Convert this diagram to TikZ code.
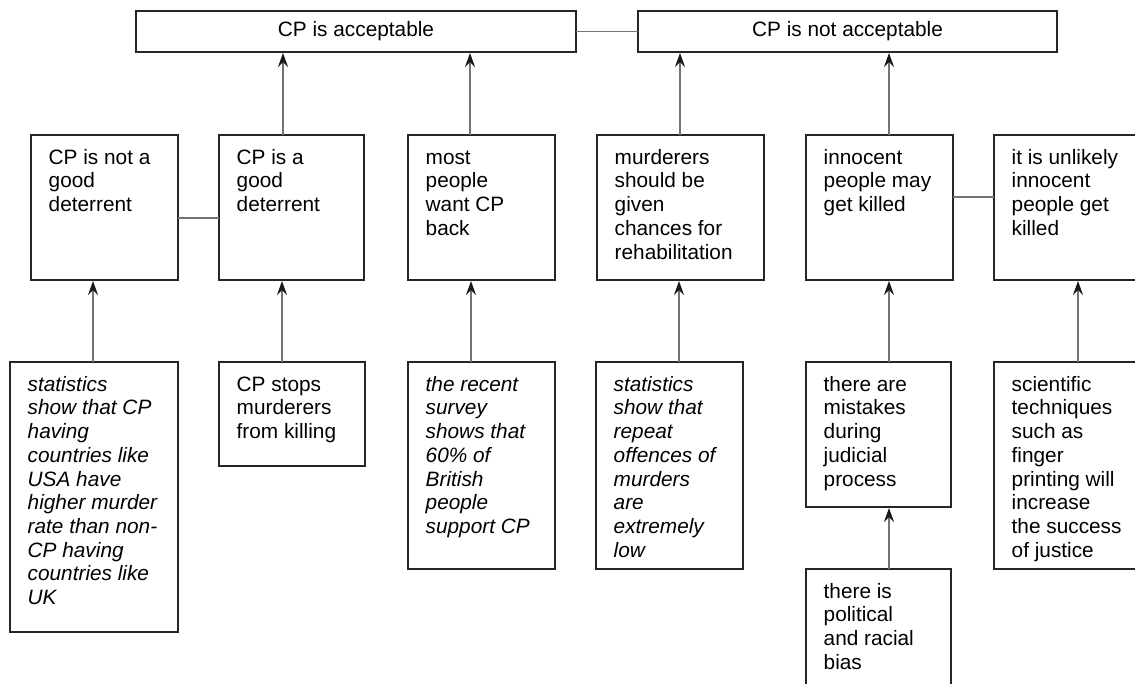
\documentclass[tikz,border=0pt]{standalone}
\usepackage{fontspec}
\setmainfont{Liberation Sans}
\usetikzlibrary{arrows.meta,calc}
\tikzset{
  box/.style={draw=black!85, line width=1.4pt, fill=white, anchor=north west, inner sep=0pt, outer sep=0pt},
  txt/.style={font=\fontsize{20.8}{23.7}\selectfont, align=left, inner sep=0pt, anchor=north west},
  ttl/.style={font=\fontsize{20.8}{23.7}\selectfont, inner sep=0pt},
  link/.style={draw=black!55, line width=1.5pt},
  arr/.style={link, -{Stealth[length=14pt,width=10pt,inset=5pt,black!90]}, shorten >=1pt}
}
\newcommand{\fl}{\rule{0pt}{15pt}}
\begin{document}
\begin{tikzpicture}[x=1pt,y=-1pt]
\useasboundingbox (0,0) rectangle (1135,684);
\clip (0,0) rectangle (1135,684);
% top boxes
\node[box, minimum width=440pt, minimum height=41pt] (T1) at (136,11) {};
\node[box, minimum width=419pt, minimum height=41pt] (T2) at (638,11) {};
\node[ttl] (T1t) at (T1.center) {CP is acceptable};
\node[ttl] (T2t) at (T2.center) {CP is not acceptable};
% middle row
\node[box, minimum width=147pt, minimum height=145pt] (A) at (31,135) {};
\node[box, minimum width=145pt, minimum height=145pt] (B) at (219,135) {};
\node[box, minimum width=147pt, minimum height=145pt] (C) at (408,135) {};
\node[box, minimum width=167pt, minimum height=145pt] (D) at (597,135) {};
\node[box, minimum width=147pt, minimum height=145pt] (E) at (806,135) {};
\node[box, minimum width=170pt, minimum height=145pt] (F) at (994,135) {};
% bottom row
\node[box, minimum width=168pt, minimum height=270pt] (G) at (10,362) {};
\node[box, minimum width=146pt, minimum height=104pt] (H) at (219,362) {};
\node[box, minimum width=147pt, minimum height=207pt] (I) at (408,362) {};
\node[box, minimum width=147pt, minimum height=207pt] (J) at (596,362) {};
\node[box, minimum width=145pt, minimum height=145pt] (K) at (806,362) {};
\node[box, minimum width=170pt, minimum height=207pt] (L) at (994,362) {};
\node[box, minimum width=145pt, minimum height=140pt] (M) at (806,569) {};
% texts
\node[txt] (At) at ($(A.north west)+(17.5,14)$) {\fl CP is not a\\good\\deterrent};
\node[txt] (Bt) at ($(B.north west)+(17.5,14)$) {\fl CP is a\\good\\deterrent};
\node[txt] (Ct) at ($(C.north west)+(17.5,14)$) {\fl most\\people\\want CP\\back};
\node[txt] (Dt) at ($(D.north west)+(17.5,14)$) {\fl murderers\\should be\\given\\chances for\\rehabilitation};
\node[txt] (Et) at ($(E.north west)+(17.5,14)$) {\fl innocent\\people may\\get killed};
\node[txt] (Ft) at ($(F.north west)+(17.5,14)$) {\fl it is unlikely\\innocent\\people get\\killed};
\node[txt, font=\fontsize{20.8}{23.7}\selectfont\itshape] (Gt) at ($(G.north west)+(17.5,14)$) {\fl statistics\\show that CP\\having\\countries like\\USA have\\higher murder\\rate than non-\\CP having\\countries like\\UK};
\node[txt] (Ht) at ($(H.north west)+(17.5,14)$) {\fl CP stops\\murderers\\from killing};
\node[txt, font=\fontsize{20.8}{23.7}\selectfont\itshape] (It) at ($(I.north west)+(17.5,14)$) {\fl the recent\\survey\\shows that\\60\% of\\British\\people\\support CP};
\node[txt, font=\fontsize{20.8}{23.7}\selectfont\itshape] (Jt) at ($(J.north west)+(17.5,14)$) {\fl statistics\\show that\\repeat\\offences of\\murders\\are\\extremely\\low};
\node[txt] (Kt) at ($(K.north west)+(17.5,14)$) {\fl there are\\mistakes\\during\\judicial\\process};
\node[txt] (Lt) at ($(L.north west)+(17.5,14)$) {\fl scientific\\techniques\\such as\\finger\\printing will\\increase\\the success\\of justice};
\node[txt] (Mt) at ($(M.north west)+(17.5,14)$) {\fl there is\\political\\and racial\\bias};
% x positions of connectors
\coordinate (xB) at (283,0);
\coordinate (xC) at (470,0);
\coordinate (xD) at (680,0);
\coordinate (xE) at (889,0);
\coordinate (xA) at (93,0);
\coordinate (xH) at (282,0);
\coordinate (xI) at (471,0);
\coordinate (xJ) at (679,0);
\coordinate (xL) at (1078,0);
\coordinate (yAB) at (0,218);
\coordinate (yEF) at (0,197);
% horizontal links
\draw[link] (T1.east) -- (T2.west);
\draw[link] (A.east |- yAB) -- (B.west |- yAB);
\draw[link] (E.east |- yEF) -- (F.west |- yEF);
% arrows up to top
\draw[arr] (B.north -| xB) -- (T1.south -| xB);
\draw[arr] (C.north -| xC) -- (T1.south -| xC);
\draw[arr] (D.north -| xD) -- (T2.south -| xD);
\draw[arr] (E.north -| xE) -- (T2.south -| xE);
% arrows from bottom row
\draw[arr] (G.north -| xA) -- (A.south -| xA);
\draw[arr] (H.north -| xH) -- (B.south -| xH);
\draw[arr] (I.north -| xI) -- (C.south -| xI);
\draw[arr] (J.north -| xJ) -- (D.south -| xJ);
\draw[arr] (K.north -| xE) -- (E.south -| xE);
\draw[arr] (L.north -| xL) -- (F.south -| xL);
\draw[arr] (M.north -| xE) -- (K.south -| xE);
\end{tikzpicture}
\end{document}
